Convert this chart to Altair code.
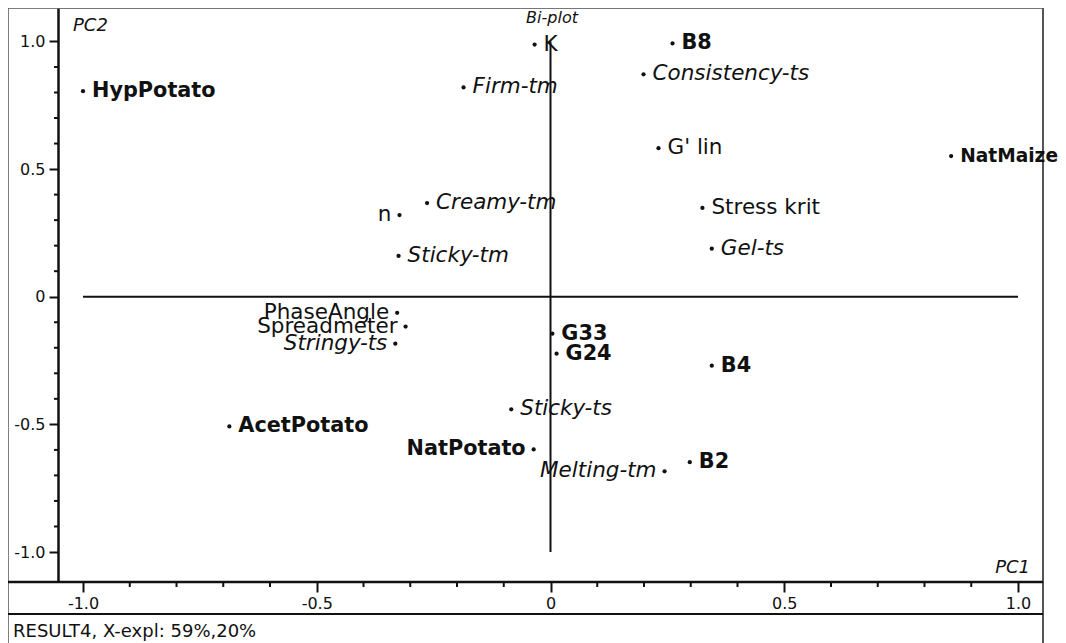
import altair as alt
import pandas as pd

labels = ["HypPotato", "K", "B8", "Consistency-ts", "Firm-tm", "G' lin", "NatMaize",
          "Creamy-tm", "n", "Stress krit", "Sticky-tm", "Gel-ts", "PhaseAngle",
          "Spreadmeter", "Stringy-ts", "G33", "G24", "B4", "Sticky-ts", "AcetPotato",
          "NatPotato", "Melting-tm", "B2"]
pc1 = [-1.0, -0.034, 0.261, 0.199, -0.186, 0.231, 0.857,
       -0.264, -0.323, 0.325, -0.325, 0.345, -0.328,
       -0.310, -0.332, 0.004, 0.013, 0.345, -0.084, -0.687,
       -0.036, 0.244, 0.298]
pc2 = [0.805, 0.988, 0.992, 0.871, 0.820, 0.582, 0.551,
       0.367, 0.320, 0.348, 0.160, 0.188, -0.063,
       -0.117, -0.184, -0.145, -0.223, -0.270, -0.441, -0.508,
       -0.598, -0.684, -0.648]
styles = ["bold", "normal", "bold", "italic", "italic", "normal", "bold",
          "italic", "normal", "normal", "italic", "italic", "normal",
          "normal", "italic", "bold", "bold", "bold", "italic", "bold",
          "bold", "italic", "bold"]
sides = ["right", "right", "right", "right", "right", "right", "right",
         "right", "left", "right", "right", "right", "left",
         "left", "left", "right", "right", "right", "right", "right",
         "left", "left", "right"]

major_ticks = [-1.0, -0.5, 0.0, 0.5, 1.0]
minor_ticks = [-0.9, -0.8, -0.7, -0.6, -0.4, -0.3, -0.2, -0.1,
               0.1, 0.2, 0.3, 0.4, 0.6, 0.7, 0.8, 0.9]
ref_h = {"x": [-1.0], "x2": [1.0], "y": [0.0]}
ref_v = {"y": [-1.0], "y2": [1.0], "x": [0.0]}

df = pd.DataFrame({"label": labels, "PC1": pc1, "PC2": pc2,
                   "style": styles, "side": sides})
minor_df = pd.DataFrame({"t": minor_ticks})
one = pd.DataFrame({"a": [0]})

W, H = 985, 574
FONT = "DejaVu Sans"
INK = "#111111"

xscale = alt.Scale(domain=[-1.0535, 1.0535], nice=False, zero=False)
yscale = alt.Scale(domain=[-1.1175, 1.131], nice=False, zero=False)
lab_expr = ("datum.value == 0 ? '0' : (datum.value < 0 ? '-' + format(-datum.value, '.1f')"
            " : format(datum.value, '.1f'))")

xaxis = alt.Axis(values=major_ticks, labelExpr=lab_expr, title=None, grid=False,
                 tickSize=10, tickWidth=2, tickColor=INK, domain=False,
                 labelFont=FONT, labelFontSize=16, labelColor=INK, labelPadding=3,
                 labelFlush=False, labelOverlap=False)
yaxis = alt.Axis(values=major_ticks, labelExpr=lab_expr, title=None, grid=False,
                 tickSize=9, tickWidth=2, tickColor=INK, domain=True,
                 domainColor=INK, domainWidth=2.5,
                 labelFont=FONT, labelFontSize=16, labelColor=INK, labelPadding=4,
                 labelFlush=False, labelOverlap=False)

base = alt.Chart(df)

points = base.mark_circle(size=18, color=INK, opacity=1).encode(
    x=alt.X("PC1:Q", scale=xscale, axis=xaxis),
    y=alt.Y("PC2:Q", scale=yscale, axis=yaxis),
)


def text_layer(style, side):
    kw = dict(font=FONT, color=INK, baseline="middle")
    if style == "bold":
        fs = 20.8
        kw.update(fontWeight="bold")
    elif style == "italic":
        fs = 21.5
        kw.update(fontStyle="italic")
    else:
        fs = 21.5
    if side == "right":
        kw.update(align="left", dx=9)
    else:
        kw.update(align="right", dx=-8)
    # the label at the right edge is set a little smaller so it stays inside the page
    size = alt.condition(alt.datum.label == "NatMaize", alt.value(18.6), alt.value(fs))
    return base.transform_filter(
        (alt.datum.style == style) & (alt.datum.side == side)
    ).mark_text(**kw).encode(x="PC1:Q", y="PC2:Q", text="label:N", size=size)


text_layers = [text_layer(s, d) for s in ["bold", "italic", "normal"]
               for d in ["right", "left"]]

hline = alt.Chart(pd.DataFrame(ref_h)).mark_rule(color=INK, strokeWidth=2).encode(
    x="x:Q", x2="x2:Q", y="y:Q")
vline = alt.Chart(pd.DataFrame(ref_v)).mark_rule(color=INK, strokeWidth=2).encode(
    y="y:Q", y2="y2:Q", x="x:Q")

minor_y = alt.Chart(minor_df).mark_rule(color=INK, strokeWidth=2).encode(
    y="t:Q", x=alt.value(-4), x2=alt.value(0))
minor_x = alt.Chart(minor_df).mark_rule(color=INK, strokeWidth=2).encode(
    x="t:Q", y=alt.value(H), y2=alt.value(H + 5))

FR = "#555555"


def rule(x, x2, y, y2, color, width):
    return alt.Chart(one).mark_rule(color=color, strokeWidth=width).encode(
        x=alt.value(x), x2=alt.value(x2), y=alt.value(y), y2=alt.value(y2))


frame = [
    rule(-50, W, 0, 0, FR, 1.5),            # top border
    rule(-50, -50, 0, 640, FR, 1.5),        # left border
    rule(W, W, 0, 640, FR, 2),              # right border
    rule(-50, W, H, H, INK, 2.5),           # bottom axis line
    rule(-50, W, H + 32, H + 32, INK, 2),   # band line
]


def note(txt, x, y, size, align="left", style="normal"):
    return alt.Chart(one).mark_text(
        text=txt, font=FONT, fontSize=size, fontStyle=style, color=INK,
        align=align, baseline="middle").encode(x=alt.value(x), y=alt.value(y))


notes = [
    note("Bi-plot", 494, 9.5, 16, align="center", style="italic"),
    note("PC2", 15, 18, 18, style="italic"),
    note("PC1", 972, 559.5, 18, align="right", style="italic"),
    note("RESULT4, X-expl: 59%,20%", -45, 624, 18),
]

chart = alt.layer(
    hline, vline, minor_x, minor_y, *frame, points, *text_layers, *notes
).properties(
    width=W, height=H,
    autosize=alt.AutoSizeParams(type="none"),
    padding={"left": 50, "top": 0, "right": 15, "bottom": 61},
).configure_view(stroke=None).configure(background="white")

chart.save("out.html", embed_options={"renderer": "svg", "actions": False})
